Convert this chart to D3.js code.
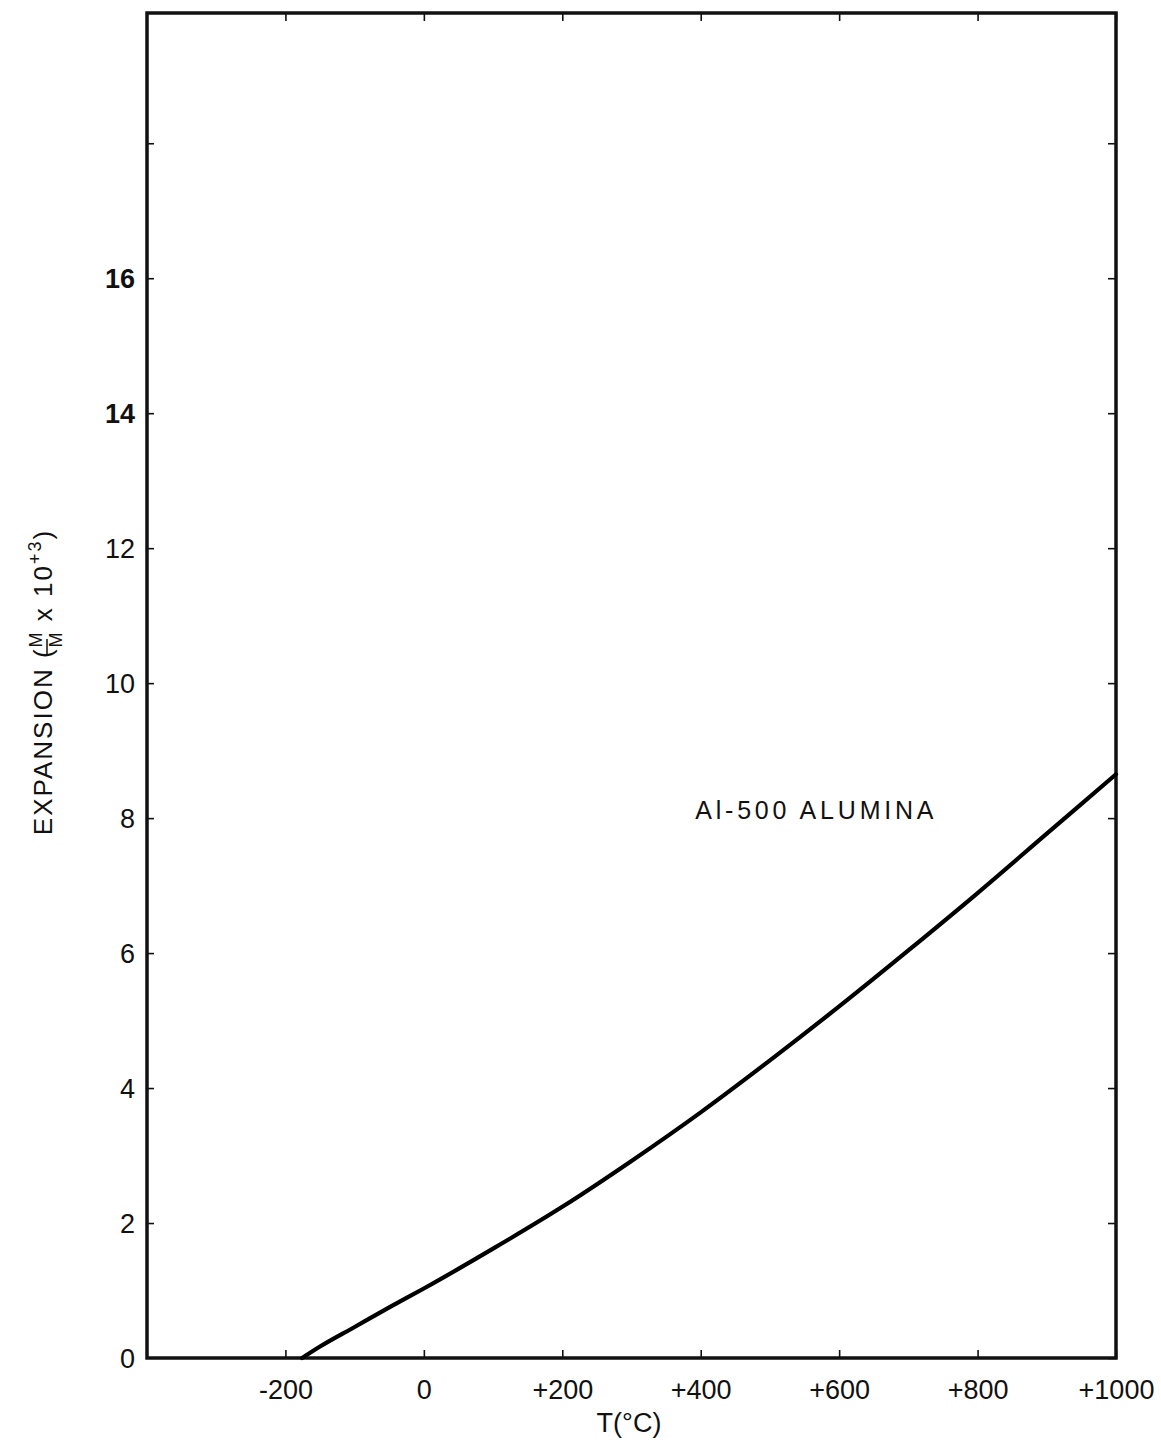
<!DOCTYPE html>
<html><head><meta charset="utf-8">
<script src="https://cdn.jsdelivr.net/npm/d3@7"></script>
<style>body{margin:0;background:#fff}svg{display:block}text{font-family:"Liberation Sans",Arial,sans-serif;fill:#111}</style>
</head><body>
<script>
// Data
const temps = [-176, -150, -100, -50, 0, 100, 200, 300, 400, 500, 600, 700, 800, 900, 1000];
const expansion = [0, 0.17, 0.46, 0.75, 1.03, 1.62, 2.24, 2.92, 3.64, 4.41, 5.21, 6.04, 6.89, 7.77, 8.65];
const xTickValues = [-200, 0, 200, 400, 600, 800, 1000];
const xTickLabels = ["-200", "0", "+200", "+400", "+600", "+800", "+1000"];
const yTickValues = [0, 2, 4, 6, 8, 10, 12, 14, 16, 18];
const yTickLabels = ["0", "2", "4", "6", "8", "10", "12", "14", "16", ""];
const seriesLabel = "Al-500 ALUMINA";
const xTitle = "T(\u00B0C)";

const W = 1161, H = 1441;
const L = 147, R = 1116, T = 13, B = 1358;
const svg = d3.select("body").append("svg").attr("width", W).attr("height", H);

const x = d3.scaleLinear().domain([-400, 1000]).range([L, R]);
const y = d3.scaleLinear().domain([0, 19.93]).range([B, T]);

const fmtX = (d) => xTickLabels[xTickValues.indexOf(d)];
const fmtY = (d) => yTickLabels[yTickValues.indexOf(d)];

const gB = svg.append("g").attr("transform", `translate(0,${B})`)
  .call(d3.axisBottom(x).tickValues(xTickValues).tickSize(-8).tickPadding(22).tickFormat(fmtX));
const gT = svg.append("g").attr("transform", `translate(0,${T})`)
  .call(d3.axisTop(x).tickValues(xTickValues).tickSize(-8).tickFormat(""));
const gL = svg.append("g").attr("transform", `translate(${L},0)`)
  .call(d3.axisLeft(y).tickValues(yTickValues).tickSize(-7).tickPadding(12).tickFormat(fmtY));
const gR = svg.append("g").attr("transform", `translate(${R},0)`)
  .call(d3.axisRight(y).tickValues(yTickValues).tickSize(-8).tickFormat(""));

[gB, gT, gL, gR].forEach(g => {
  g.select(".domain").remove();
  g.selectAll(".tick line").attr("stroke", "#111").attr("stroke-width", 1.6);
  g.selectAll(".tick text").style("font-size", "26px").style("fill", "#111").attr("font-family", null);
});
gL.selectAll(".tick text").attr("dy", "0.35em").style("font-size", "27px")
  .style("font-weight", d => (d >= 14 ? "bold" : "normal"));
gL.selectAll(".tick").filter(d => d === 0).select("line").remove();
gB.selectAll(".tick text").attr("dy", "0.71em").style("font-size", "27px");

// frame
svg.append("rect").attr("x", L).attr("y", T).attr("width", R - L).attr("height", B - T)
  .attr("fill", "none").attr("stroke", "#111").attr("stroke-width", 3.5);

// curve
const line = d3.line().x((d, i) => x(temps[i])).y(d => y(d)).curve(d3.curveMonotoneX);
svg.append("path").datum(expansion).attr("d", line)
  .attr("fill", "none").attr("stroke", "#000").attr("stroke-width", 4.2).attr("stroke-linecap", "round");

// series label
svg.append("text").attr("x", x(392)).attr("y", y(8.12)).attr("dy", "0.35em")
  .style("font-size", "25px").style("letter-spacing", "3.8px").text(seriesLabel);

// x title
svg.append("text").attr("x", 629).attr("y", 1432).attr("text-anchor", "middle")
  .style("font-size", "27px").text(xTitle);

// y title (rotated)
const yt = svg.append("g").attr("transform", "translate(52,682) rotate(-90)");
const t = yt.append("text").attr("text-anchor", "middle").style("font-size", "26px").style("letter-spacing", "2px");
t.append("tspan").text("EXPANSION (");
t.append("tspan").attr("dy", -10).style("font-size", "18px").text("M");
t.append("tspan").attr("dy", 20).attr("dx", -17).style("font-size", "18px").text("M");
t.append("tspan").attr("dy", -10).text(" x 10");
t.append("tspan").attr("dy", -11).style("font-size", "18px").text("+3");
t.append("tspan").attr("dy", 11).text(")");
const bb = t.node().getComputedTextLength();
const tsp = t.selectAll("tspan").nodes();
const fx0 = -bb / 2 + tsp[0].getComputedTextLength();
yt.append("line").attr("x1", fx0 + 1).attr("x2", fx0 + 17).attr("y1", -5).attr("y2", -5)
  .attr("stroke", "#111").attr("stroke-width", 1.5);
</script>
</body></html>
